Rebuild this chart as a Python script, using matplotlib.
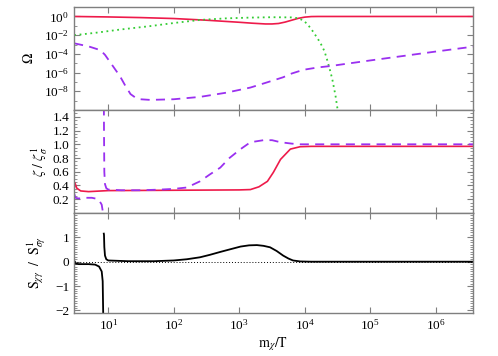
import numpy as np
import matplotlib
matplotlib.use("Agg")
import matplotlib.pyplot as plt
from matplotlib.ticker import FixedLocator, LogFormatterMathtext, NullLocator, NullFormatter, MultipleLocator

plt.rcParams['font.family'] = ['Liberation Serif', 'DejaVu Serif']
plt.rcParams['mathtext.fontset'] = 'stix'

# ---- data (x given as log10(m_chi/T)) ----
# top panel: log10(Omega)
red_om_lx = [0.48, 1.0, 1.5, 2.0, 2.5, 3.0, 3.2, 3.4, 3.5, 3.6, 3.7, 3.8, 3.9, 4.0, 4.1, 4.2, 6.6]
red_om_ly = [0.0, -0.05, -0.12, -0.22, -0.4, -0.62, -0.72, -0.8, -0.8, -0.75, -0.6, -0.4, -0.2, -0.07, -0.01, 0.0, 0.0]

grn_om_lx = [0.48, 0.8, 1.18, 1.64, 2.0, 2.4, 2.8, 3.17, 3.5, 3.82, 3.9, 3.98, 4.05, 4.13, 4.2, 4.24,
             4.3, 4.34, 4.38, 4.42, 4.47, 4.5, 4.52]
grn_om_ly = [-2.0, -1.75, -1.4, -1.03, -0.7, -0.37, -0.2, -0.12, -0.08, -0.1, -0.2, -0.42, -0.9, -1.65, -2.4, -2.85,
             -3.7, -4.6, -5.6, -6.7, -8.5, -9.9, -11.0]

pur_om_lx = [0.48, 0.7, 0.88, 0.95, 1.03, 1.1, 1.18, 1.26, 1.34, 1.42, 1.49, 1.64, 2.0, 2.4, 2.8, 3.17,
             3.4, 3.67, 3.8, 3.98, 4.2, 4.39, 5.0, 6.0, 6.6]
pur_om_ly = [-2.87, -3.2, -3.6, -4.1, -4.9, -5.6, -6.4, -7.4, -8.3, -8.7, -8.85, -8.92, -8.85, -8.6, -8.15, -7.6,
             -7.1, -6.5, -6.1, -5.7, -5.45, -5.3, -4.7, -3.75, -3.2]

# middle panel: zeta / zeta_sigma^1
red_z_lx = [0.48, 0.49, 0.52, 0.58, 0.7, 0.9, 1.0, 2.0, 3.0, 3.17, 3.3, 3.43, 3.52, 3.63, 3.78, 3.93, 4.1, 6.6]
red_z = [0.35, 0.44, 0.36, 0.32, 0.31, 0.32, 0.325, 0.33, 0.335, 0.34, 0.38, 0.46, 0.59, 0.78, 0.93, 0.965, 0.97, 0.97]

pur_z_lx = [0.48, 0.5, 0.55, 0.65, 0.75, 0.85, 0.9, 0.92, 0.926, np.nan,
            0.931, 0.935, 0.94, 0.95, 0.97, 1.0, 1.2, 1.5, 1.8, 2.0, 2.2, 2.4, 2.55, 2.71, 2.85,
            3.02, 3.17, 3.37, 3.5, 3.63, 3.8, 3.93, 6.6]
pur_z = [0.28, 0.22, 0.21, 0.22, 0.22, 0.2, 0.12, 0.0, -0.2, np.nan,
         2.0, 1.2, 0.6, 0.42, 0.36, 0.34, 0.33, 0.33, 0.34, 0.35, 0.37, 0.46, 0.56, 0.66, 0.8,
         0.93, 1.03, 1.06, 1.06, 1.03, 1.01, 1.0, 1.0]

# bottom panel: S_chi_gamma / S^1_sigma_gamma
blk_s_lx = [0.48, 0.485, 0.5, 0.55, 0.7, 0.8, 0.86, 0.9, 0.915, 0.925, np.nan,
            0.932, 0.935, 0.94, 0.95, 0.97, 1.0, 1.3, 1.7, 2.0, 2.2, 2.4, 2.55, 2.71, 2.85,
            3.02, 3.15, 3.27, 3.37, 3.47, 3.57, 3.67, 3.75, 3.82, 3.93, 4.1, 6.6]
blk_s = [-0.05, 0.02, -0.08, -0.1, -0.1, -0.12, -0.2, -0.4, -0.8, -2.5, np.nan,
         1.15, 1.1, 0.6, 0.25, 0.1, 0.05, 0.02, 0.02, 0.05, 0.1, 0.18, 0.28, 0.4, 0.5,
         0.62, 0.67, 0.68, 0.65, 0.59, 0.44, 0.25, 0.13, 0.05, 0.01, 0.0, 0.0]

red = '#EE1A4A'
green = '#33CC33'
purple = '#9A30F0'
grey = '#7F7F7F'


def style_axis(ax):
	for sp in ax.spines.values():
		sp.set_color(grey)
		sp.set_linewidth(1.0)
	ax.tick_params(which='both', direction='in', top=True, right=True, color=grey, labelsize=9.5)
	ax.tick_params(which='major', length=4.5, width=0.8)
	ax.tick_params(which='minor', length=2.5, width=0.6)
	ax.set_xscale('log')
	ax.set_xlim(3.0, 3.7e6)
	ax.xaxis.set_major_locator(FixedLocator([1e1, 1e2, 1e3, 1e4, 1e5, 1e6]))
	ax.xaxis.set_minor_locator(NullLocator())
	ax.xaxis.set_minor_formatter(NullFormatter())


def main():
	fig = plt.figure(figsize=(4.98, 3.56), dpi=100)
	L, W = 0.1486, 0.8012
	ax1 = fig.add_axes([L, 0.691, W, 0.289])
	ax2 = fig.add_axes([L, 0.402, W, 0.289])
	ax3 = fig.add_axes([L, 0.121, W, 0.281])

	# top
	ax1.plot(10 ** np.array(red_om_lx), 10 ** np.array(red_om_ly), color=red, lw=1.2)
	ax1.plot(10 ** np.array(grn_om_lx), 10 ** np.array(grn_om_ly), color=green, lw=1.3, linestyle=(0, (1, 2)))
	ax1.plot(10 ** np.array(pur_om_lx), 10 ** np.array(pur_om_ly), color=purple, lw=1.3, dashes=(5, 3.5))
	style_axis(ax1)
	ax1.set_yscale('log')
	ax1.set_ylim(1e-10, 1e1)
	ax1.yaxis.set_major_locator(FixedLocator([1e0, 1e-2, 1e-4, 1e-6, 1e-8]))
	ax1.yaxis.set_minor_locator(FixedLocator([1e1, 1e-1, 1e-3, 1e-5, 1e-7, 1e-9]))
	ax1.yaxis.set_major_formatter(LogFormatterMathtext())
	ax1.yaxis.set_minor_formatter(NullFormatter())
	ax1.set_ylabel(r'$\Omega$', fontsize=10, labelpad=6)
	ax1.tick_params(labelbottom=False)

	# middle
	ax2.plot(10 ** np.array(red_z_lx), red_z, color=red, lw=1.2)
	ax2.plot(10 ** np.array(pur_z_lx), pur_z, color=purple, lw=1.3, dashes=(5, 3.5))
	style_axis(ax2)
	ax2.set_ylim(0.0, 1.5)
	ax2.yaxis.set_major_locator(FixedLocator([0.2, 0.4, 0.6, 0.8, 1.0, 1.2, 1.4]))
	ax2.yaxis.set_minor_locator(MultipleLocator(0.05))
	ax2.set_ylabel(r'$\zeta\ /\ \zeta_\sigma^1$', fontsize=10, labelpad=2)
	ax2.tick_params(labelbottom=False)

	# bottom
	ax3.axhline(0.0, color='black', lw=0.7, linestyle=(0, (1, 2)))
	ax3.plot(10 ** np.array(blk_s_lx), blk_s, color='black', lw=1.3)
	style_axis(ax3)
	ax3.set_ylim(-2.1, 2.0)
	ax3.yaxis.set_major_locator(FixedLocator([-2, -1, 0, 1]))
	ax3.yaxis.set_minor_locator(MultipleLocator(0.1))
	ax3.xaxis.set_major_formatter(LogFormatterMathtext())
	ax3.set_ylabel(r'$\mathrm{S}_{\chi\gamma}\ \ /\ \ \mathrm{S}^1_{\sigma\gamma}$', fontsize=10, labelpad=6)
	ax3.set_xlabel(r'$\mathrm{m}_\chi/\mathrm{T}$', fontsize=10, labelpad=2)

	fig.align_ylabels([ax1, ax2, ax3])
	fig.savefig('out.png', dpi=100)


if __name__ == "__main__":
	main()
